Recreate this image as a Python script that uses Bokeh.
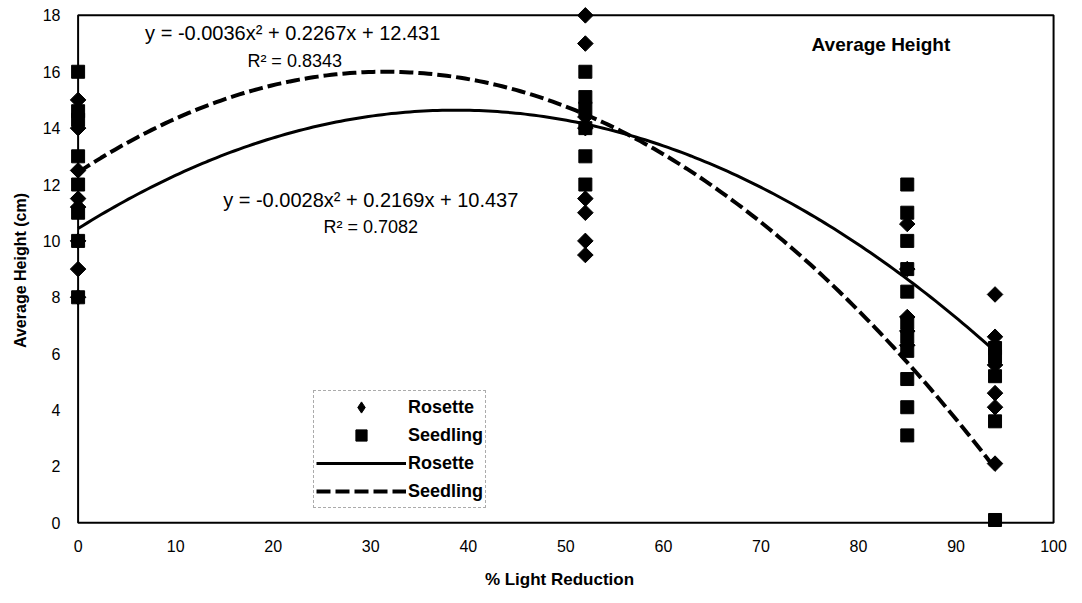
import numpy as np
from bokeh.plotting import figure
from bokeh.models import Range1d, FixedTicker, Label, Legend, LegendItem
from bokeh.embed import file_html
from bokeh.resources import INLINE

# Light reduction treatments (%) and measured average heights (cm)
rosette_x = [0, 0, 0, 0, 0, 0, 0, 0,
             52, 52, 52, 52, 52, 52, 52, 52,
             85, 85, 85, 85, 85,
             94, 94, 94, 94, 94, 94]
rosette_y = [15.0, 14.0, 12.5, 11.5, 11.2, 10.0, 9.0, 8.0,
             18.0, 17.0, 14.4, 14.0, 11.5, 11.0, 10.0, 9.5,
             10.6, 9.0, 7.3, 6.8, 6.3,
             8.1, 6.6, 5.6, 4.6, 4.1, 2.1]

seedling_x = [0, 0, 0, 0, 0, 0, 0, 0,
              52, 52, 52, 52, 52, 52,
              85, 85, 85, 85, 85, 85, 85, 85, 85, 85, 85,
              94, 94, 94, 94, 94]
seedling_y = [16.0, 14.6, 14.3, 13.0, 12.0, 11.0, 10.0, 8.0,
              16.0, 15.1, 14.7, 14.0, 13.0, 12.0,
              12.0, 11.0, 10.0, 9.0, 8.2, 7.1, 6.6, 6.1, 5.1, 4.1, 3.1,
              6.2, 5.9, 5.2, 3.6, 0.1]

# Polynomial trendlines (a*x^2 + b*x + c) and their R^2
rosette_coef = (-0.0028, 0.2169, 10.437)
seedling_coef = (-0.0036, 0.2267, 12.431)
rosette_r2 = 0.7082
seedling_r2 = 0.8343
fit_span = (0, 94)

x_ticks = list(range(0, 101, 10))
y_ticks = list(range(0, 19, 2))
x_lim = (0, 100)
y_lim = (0, 18)

FONT = "Liberation Sans"


def eq_text(coef):
    a, b, c = coef
    return f"y = {a}x\u00b2 + {b}x + {c}"


def fit(coef, x):
    a, b, c = coef
    return a * x ** 2 + b * x + c


p = figure(frame_width=994, frame_height=530,
           x_range=Range1d(-1.6, 100.3), y_range=Range1d(-0.45, 18.35),
           min_border_left=62, min_border_right=26,
           min_border_top=5, min_border_bottom=68,
           output_backend="svg", toolbar_location=None)
p.outline_line_color = None
p.xgrid.visible = False
p.ygrid.visible = False
p.background_fill_color = "white"
p.border_fill_color = "white"

for ax, ticks in ((p.xaxis, x_ticks), (p.yaxis, y_ticks)):
    ax.ticker = FixedTicker(ticks=ticks)
    ax.axis_line_color = None
    ax.major_tick_line_color = None
    ax.minor_tick_line_color = None
    ax.major_tick_out = 0
    ax.major_label_text_font = FONT
    ax.major_label_text_font_size = "16px"
    ax.major_label_text_color = "black"
    ax.axis_label_text_font = FONT
    ax.axis_label_text_font_style = "bold"
    ax.axis_label_text_color = "black"

p.xaxis.axis_label = "% Light Reduction"
p.yaxis.axis_label = "Average Height (cm)"
p.xaxis.axis_label_text_font_size = "17px"
p.yaxis.axis_label_text_font_size = "16px"
p.xaxis.major_label_standoff = 4
p.xaxis.axis_label_standoff = 15
p.yaxis.major_label_standoff = 2
p.yaxis.axis_label_standoff = 11

# plot-area box
p.quad(left=[x_lim[0]], right=[x_lim[1]], bottom=[y_lim[0]], top=[y_lim[1]],
       fill_color=None, line_color="black", line_width=2)

xs = np.linspace(fit_span[0], fit_span[1], 200)
r_fit = p.line(xs, fit(rosette_coef, xs), line_color="black", line_width=3)
s_fit = p.line(xs, fit(seedling_coef, xs), line_color="black", line_width=4,
               line_dash="14 5")

# rosette points as diamonds (rotated squares), seedlings as squares
r_pts = p.scatter(rosette_x, rosette_y, marker="square", angle=np.pi / 4,
                  size=11, color="black")
s_pts = p.scatter(seedling_x, seedling_y, marker="square", size=13,
                  color="black")
# legend swatch for the rosette series (legend glyphs are drawn unrotated)
r_key = p.scatter(rosette_x, rosette_y, marker="diamond", size=13,
                  color="black", visible=False)

legend = Legend(items=[LegendItem(label="Rosette", renderers=[r_key]),
                       LegendItem(label="Seedling", renderers=[s_pts]),
                       LegendItem(label="Rosette", renderers=[r_fit]),
                       LegendItem(label="Seedling", renderers=[s_fit])],
                location=(251, 27), glyph_width=90, glyph_height=28,
                label_height=20, label_standoff=2, spacing=0, padding=2,
                margin=0, label_text_font=FONT, label_text_font_size="18px",
                label_text_font_style="bold", label_text_color="black",
                background_fill_alpha=0, border_line_color="#888888",
                border_line_dash="2 3", border_line_alpha=0.7)
p.add_layout(legend)


def add_text(x, y, text, size, bold=False):
    p.add_layout(Label(x=x, y=y, text=text, text_font=FONT,
                       text_font_size=size, text_color="black",
                       text_font_style="bold" if bold else "normal",
                       text_align="center", text_baseline="middle"))


add_text(82.3, 16.98, "Average Height", "19px", bold=True)
add_text(22, 17.37, eq_text(seedling_coef), "20px")
add_text(22.2, 16.38, f"R\u00b2 = {seedling_r2}", "18px")
add_text(30, 11.45, eq_text(rosette_coef), "20px")
add_text(30, 10.5, f"R\u00b2 = {rosette_r2}", "18px")

open("out.html", "w").write(file_html(p, INLINE))
